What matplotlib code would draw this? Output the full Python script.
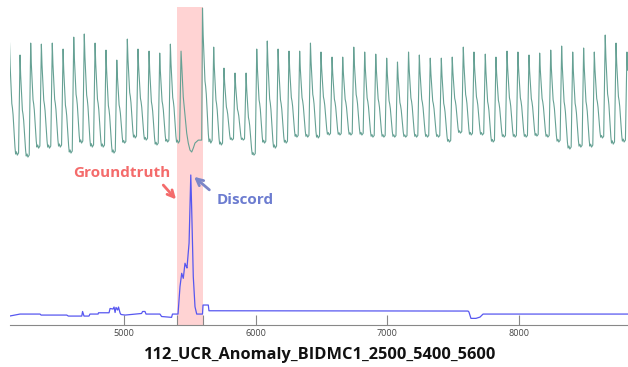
import matplotlib
matplotlib.use('Agg')
import matplotlib.pyplot as plt

plt.rcParams['font.family'] = ['Open Sans', 'DejaVu Sans']

# Beat peaks of the signal (time, normalised height) and the trough after each one
peak_t = [4130, 4210, 4291, 4372, 4455, 4537, 4618, 4698, 4780, 4863,
          4945, 5025, 5106, 5190, 5271, 5352, 5433, 5596, 5681, 5759,
          5843, 5927, 6008, 6088, 6170, 6253, 6334, 6416, 6496, 6580,
          6661, 6745, 6828, 6912, 6995, 7077, 7161, 7243, 7326, 7410,
          7493, 7577, 7658, 7744, 7825, 7909, 7992, 8076, 8157, 8241,
          8324, 8408, 8491, 8572, 8655, 8737, 8820]
peak_v = [0.765, 0.685, 0.765, 0.758, 0.765, 0.725, 0.805, 0.826, 0.765, 0.718,
          0.651, 0.792, 0.725, 0.711, 0.698, 0.758, 0.711, 1.0, 0.738, 0.597,
          0.564, 0.564, 0.725, 0.779, 0.725, 0.711, 0.711, 0.765, 0.705, 0.671,
          0.671, 0.738, 0.705, 0.691, 0.664, 0.638, 0.705, 0.685, 0.664, 0.664,
          0.671, 0.738, 0.705, 0.691, 0.671, 0.711, 0.705, 0.685, 0.698, 0.718,
          0.745, 0.705, 0.732, 0.705, 0.819, 0.765, 0.705]
trough_v = [0.013, 0.0, 0.060, 0.060, 0.067, 0.027, 0.094, 0.067, 0.067, 0.027,
            0.094, 0.128, 0.114, 0.081, 0.101, 0.094, 0.034, 0.094, 0.081, 0.114,
            0.114, 0.013, 0.094, 0.060, 0.094, 0.134, 0.134, 0.128, 0.148, 0.148,
            0.148, 0.148, 0.134, 0.134, 0.134, 0.134, 0.134, 0.134, 0.134, 0.101,
            0.161, 0.148, 0.148, 0.101, 0.134, 0.134, 0.134, 0.141, 0.134, 0.101,
            0.054, 0.067, 0.067, 0.128, 0.087, 0.101, 0.100]

# shape of one beat after its peak (fraction of period, fraction of peak-to-trough)
shape_phase = [0.0, 0.06, 0.14, 0.22, 0.28, 0.34, 0.44, 0.52, 0.58, 0.66, 0.74, 0.86]
shape_level = [1.0, 0.80, 0.62, 0.46, 0.42, 0.36, 0.20, 0.07, 0.01, 0.03, 0.0, 0.02]

# the odd beat inside the groundtruth window
anom_beat = 16
anom_t = [5450, 5476, 5488, 5501, 5514, 5526, 5539, 5564, 5590]
anom_v = [0.403, 0.161, 0.094, 0.047, 0.034, 0.060, 0.094, 0.114, 0.114]

# discord score
score_t = [4130, 4210, 4362, 4370, 4565, 4577, 4679, 4685, 4696, 4734,
           4741, 4803, 4806, 4886, 4894, 4916, 4924, 4932, 4939, 4951,
           4958, 4970, 4977, 5008, 5053, 5133, 5141, 5159, 5167, 5273,
           5285, 5361, 5368, 5410, 5425, 5438, 5450, 5463, 5471, 5478,
           5494, 5507, 5514, 5526, 5539, 5552, 5596, 5600, 5640, 5645,
           7613, 7620, 7635, 7673, 7704, 7727, 8828]
score_v = [0.017, 0.031, 0.031, 0.024, 0.024, 0.017, 0.017, 0.049, 0.017, 0.017,
           0.031, 0.031, 0.040, 0.040, 0.070, 0.066, 0.080, 0.042, 0.077, 0.059,
           0.080, 0.038, 0.028, 0.024, 0.028, 0.035, 0.049, 0.049, 0.031, 0.031,
           0.014, 0.008, 0.031, 0.031, 0.222, 0.315, 0.280, 0.385, 0.366, 0.352,
           0.526, 1.0, 0.756, 0.291, 0.082, 0.031, 0.031, 0.094, 0.094, 0.054,
           0.052, 0.045, 0.001, 0.001, 0.010, 0.031, 0.031]

gt_start, gt_end = 5400, 5600
x_end = 8828

# build the signal line from the beats
sig_t, sig_v = [], []
for i in range(len(peak_t)):
    t0 = peak_t[i]
    T = peak_t[i + 1] - t0 if i < len(peak_t) - 1 else 82
    if i == anom_beat:
        sig_t += [t0] + anom_t
        sig_v += [peak_v[i]] + anom_v
        continue
    for f, l in zip(shape_phase, shape_level):
        t = t0 + f * T
        if t > x_end:
            break
        sig_t.append(t)
        sig_v.append(trough_v[i] + (peak_v[i] - trough_v[i]) * l)

fig = plt.figure(figsize=(6.28, 3.67), dpi=100)
ax = fig.add_axes([9.5 / 628, 42 / 367, 1 - 9.5 / 628, 318 / 367])

ax.plot(sig_t, [0.528 + 0.4686 * v for v in sig_v], color='#66a194', lw=0.8)
ax.plot(score_t, [0.0204 + 0.4513 * s for s in score_v], color='#5757f0', lw=0.9)
ax.axvspan(gt_start, gt_end, color='#ff6f6f', alpha=0.3, lw=0)

ax.set_xlim(4130, x_end)
ax.set_ylim(0, 1)
ax.set_yticks([])
for s in ['top', 'left', 'right']:
    ax.spines[s].set_visible(False)
ax.spines['bottom'].set_color('#888888')
ax.set_xticks([5000, 6000, 7000, 8000, gt_start, gt_end])
ax.set_xticklabels(['5000', '6000', '7000', '8000', '', ''])
ax.tick_params(axis='x', direction='in', length=7.5, width=0.8, color='#888888',
               labelsize=6.5, labelcolor='#444444', pad=3)

ax.text(4983, 0.479, 'Groundtruth', color='#f46b6b', fontsize=11, fontweight='bold',
        ha='center', va='center')
ax.annotate('', xy=(5395, 0.395), xytext=(5298, 0.440),
            arrowprops=dict(arrowstyle='->', color='#f46b6b', lw=2, mutation_scale=12,
                            shrinkA=0, shrinkB=0))
ax.text(5919, 0.393, 'Discord', color='#6c7cd0', fontsize=11, fontweight='bold',
        ha='center', va='center')
ax.annotate('', xy=(5532, 0.466), xytext=(5648, 0.425),
            arrowprops=dict(arrowstyle='->', color='#7b86c8', lw=2, mutation_scale=12,
                            shrinkA=0, shrinkB=0))

fig.text(0.51, 0.033, '112_UCR_Anomaly_BIDMC1_2500_5400_5600', fontsize=11.8,
         fontweight='bold', ha='center', va='center', color='#111111')

fig.savefig('out.png', dpi=100)
